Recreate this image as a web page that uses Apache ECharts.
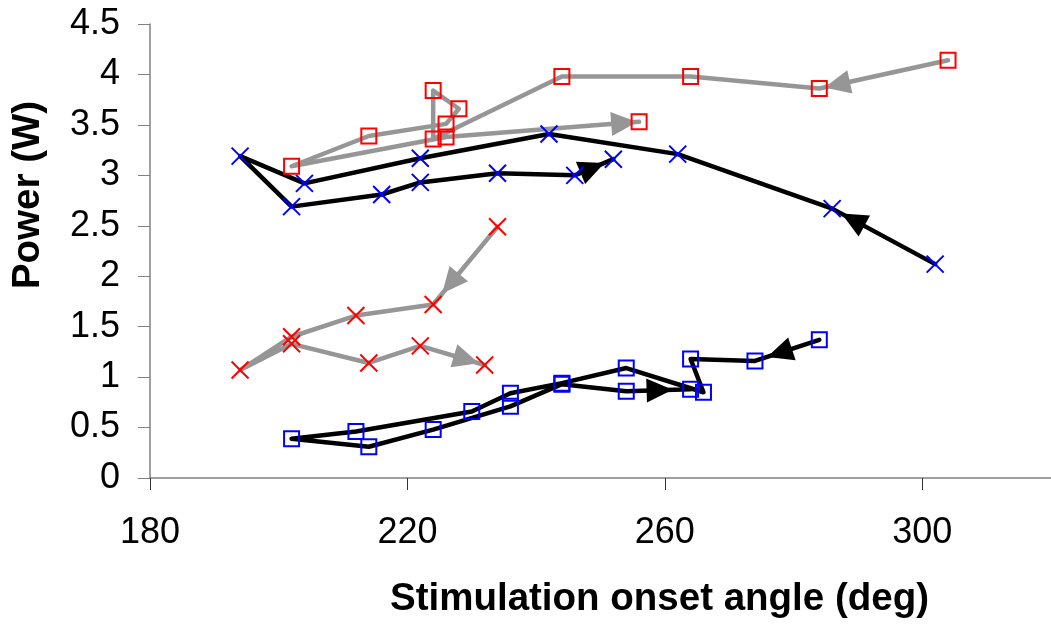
<!DOCTYPE html>
<html>
<head>
<meta charset="utf-8">
<script src="https://cdn.jsdelivr.net/npm/echarts@6/dist/echarts.min.js"></script>
<style>
html,body{margin:0;padding:0;background:#fff;}
#chart{width:1051px;height:624px;}
</style>
</head>
<body>
<div id="chart"></div>
<script>
// ---- data ----
// red squares, grey line (starts at 304 deg)
const rsAngle = [304, 284, 264, 244, 224, 224, 228, 226, 214, 202, 226, 256];
const rsPower = [4.14, 3.86, 3.98, 3.98, 3.36, 3.84, 3.66, 3.51, 3.39, 3.09, 3.38, 3.53];
// blue crosses, black line (starts at 302 deg)
const bxAngle = [302, 286, 262, 242, 222, 204, 194, 202, 216, 222, 234, 246, 252];
const bxPower = [2.12, 2.67, 3.21, 3.41, 3.17, 2.92, 3.19, 2.69, 2.81, 2.93, 3.02, 3.00, 3.16];
// red crosses, grey line (starts at 234 deg)
const rxAngle = [234, 224, 212, 202, 194, 202, 214, 222, 232];
const rxPower = [2.49, 1.72, 1.61, 1.40, 1.07, 1.33, 1.14, 1.31, 1.12];
// blue squares, black line (starts at 284 deg)
const bsAngle = [284, 274, 264, 266, 254, 244, 236, 230, 212, 202, 214, 224, 236, 244, 254, 264];
const bsPower = [1.37, 1.16, 1.18, 0.85, 1.09, 0.94, 0.84, 0.66, 0.46, 0.39, 0.31, 0.48, 0.71, 0.93, 0.86, 0.88];
// direction arrows: [series, segment index, fraction along segment where the tip sits]
const arrowSpecs = [
  ['rs', 0, 0.96], ['rs', 10, 0.99],
  ['bx', 0, 0.91], ['bx', 11, 0.77],
  ['rx', 0, 0.86], ['rx', 7, 0.91],
  ['bs', 0, 0.81], ['bs', 14, 0.72]
];
const xTicks = [180, 220, 260, 300];

const RED = '#ff0000', BLUE = '#0000ff', GREY = '#969696', BLACK = '#000000';
const FONT = '"Liberation Sans", Arial, sans-serif';

const sets = {
  rs: {a: rsAngle, p: rsPower, line: GREY},
  bx: {a: bxAngle, p: bxPower, line: BLACK},
  rx: {a: rxAngle, p: rxPower, line: GREY},
  bs: {a: bsAngle, p: bsPower, line: BLACK}
};
function pts(k){ return sets[k].a.map((v,i)=>[v, sets[k].p[i]]); }

const crossPath = 'path://M0,0L10,10M10,0L0,10';

function lineSeries(k, symbol, markColor, size){
  return {
    type: 'line', data: pts(k), symbol: symbol, symbolSize: size,
    showAllSymbol: true, animation: false, silent: true,
    lineStyle: {color: sets[k].line, width: 4.5, join: 'round', cap: 'round'},
    itemStyle: {color: 'rgba(0,0,0,0)', borderColor: markColor, borderWidth: 2},
    emphasis: {disabled: true}
  };
}

function arrowData(color){
  return arrowSpecs.filter(s => sets[s[0]].line === color).map(s => {
    const d = sets[s[0]], i = s[1];
    return [d.a[i], d.p[i], d.a[i+1], d.p[i+1], s[2]];
  });
}
function arrowSeries(color){
  return {
    type: 'custom', animation: false, silent: true,
    data: arrowData(color),
    encode: {x: [0, 2], y: [1, 3]},
    renderItem: function(params, api){
      const p0 = api.coord([api.value(0), api.value(1)]);
      const p1 = api.coord([api.value(2), api.value(3)]);
      const t = api.value(4);
      const dx = p1[0]-p0[0], dy = p1[1]-p0[1];
      const len = Math.sqrt(dx*dx+dy*dy) || 1;
      const ux = dx/len, uy = dy/len;
      const tip = [p0[0]+dx*t, p0[1]+dy*t];
      const L = 26, W = 24;
      const bc = [tip[0]-ux*L, tip[1]-uy*L];
      return {
        type: 'polygon',
        shape: {points: [tip, [bc[0]-uy*W/2, bc[1]+ux*W/2], [bc[0]+uy*W/2, bc[1]-ux*W/2]]},
        style: {fill: color}
      };
    },
    z: 3
  };
}

const chart = echarts.init(document.getElementById('chart'), null, {renderer: 'canvas'});
chart.setOption({
  backgroundColor: '#ffffff',
  animation: false,
  grid: {left: 150, top: 24, width: 904.75, height: 457, containLabel: false},
  xAxis: {
    type: 'value', min: 180, max: 320, interval: 40,
    name: 'Stimulation onset angle (deg)', nameLocation: 'middle', nameGap: 102,
    nameTextStyle: {fontFamily: FONT, fontSize: 38.5, fontWeight: 'bold', color: '#000', padding: [0, 0, 0, 118]},
    axisLine: {lineStyle: {color: '#808080', width: 1.5}},
    axisTick: {length: 12, lineStyle: {color: '#333', width: 1}},
    splitLine: {show: false},
    axisLabel: {
      fontFamily: FONT, fontSize: 36, color: '#000', margin: 37,
      showMaxLabel: false,
      formatter: v => xTicks.includes(v) ? String(v) : ''
    }
  },
  yAxis: {
    type: 'value', min: 0, max: 4.5, interval: 0.5,
    name: 'Power (W)', nameLocation: 'middle', nameGap: 102, nameRotate: 90,
    nameTextStyle: {fontFamily: FONT, fontSize: 38.5, fontWeight: 'bold', color: '#000', padding: [0, 0, 0, 112]},
    axisLine: {show: true, lineStyle: {color: '#808080', width: 1.5}},
    axisTick: {show: true, length: 12, lineStyle: {color: '#808080', width: 1}},
    splitLine: {show: false},
    axisLabel: {fontFamily: FONT, fontSize: 36, color: '#000', margin: 30}
  },
  series: [
    lineSeries('bs', 'rect', BLUE, 15),
    lineSeries('bx', crossPath, BLUE, 17),
    arrowSeries(BLACK),
    lineSeries('rx', crossPath, RED, 17),
    lineSeries('rs', 'rect', RED, 15),
    arrowSeries(GREY)
  ]
});
</script>
</body>
</html>
